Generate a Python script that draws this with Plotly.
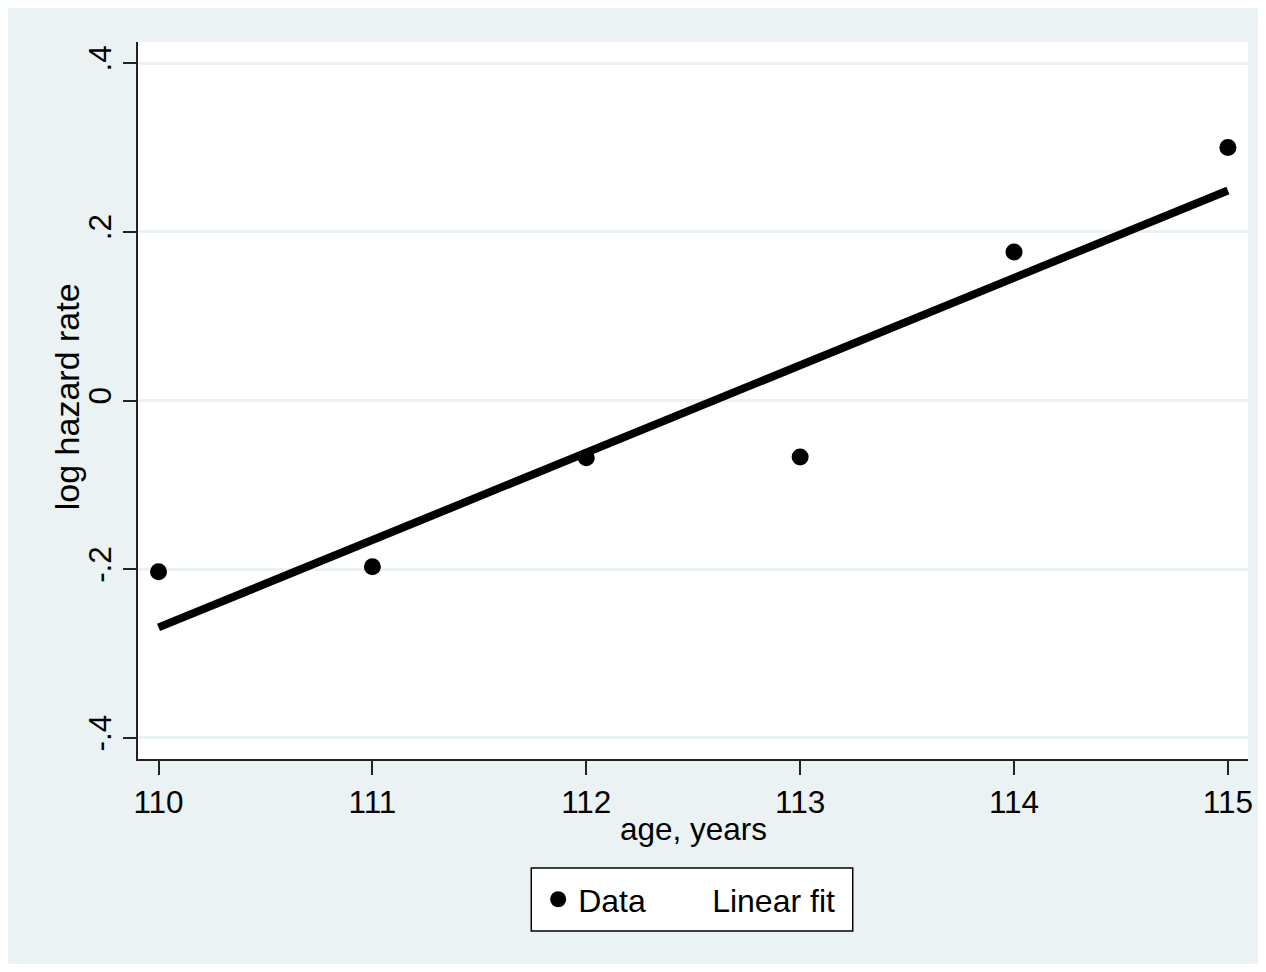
import plotly.graph_objects as go

ages = [110, 111, 112, 113, 114, 115]
log_hazard = [-0.203, -0.197, -0.068, -0.067, 0.176, 0.300]
fit_x = [110, 115]
fit_y = [-0.269, 0.249]
y_ticks = [-0.4, -0.2, 0, 0.2, 0.4]
y_tick_labels = ["-.4", "-.2", "0", ".2", ".4"]
x_ticks = [110, 111, 112, 113, 114, 115]

BG = "#EAF2F3"
FONT = "Liberation Sans, Arial, sans-serif"

fig = go.Figure()
fig.add_trace(go.Scatter(x=fit_x, y=fit_y, mode="lines", name="Linear fit",
                         line=dict(color="black", width=8), showlegend=False))
fig.add_trace(go.Scatter(x=ages, y=log_hazard, mode="markers", name="Data",
                         marker=dict(color="black", size=17), legendwidth=89))
fig.add_trace(go.Scatter(x=[None], y=[None], mode="lines", name="Linear fit",
                         line=dict(color="rgba(0,0,0,0)", width=0)))

# legend frame
fig.add_shape(type="rect", xref="paper", yref="paper",
              x0=0.3543, x1=0.6439, y0=-0.2399, y1=-0.152,
              line=dict(color="black", width=1.5), fillcolor="white", layer="below")

# axis titles
fig.add_annotation(text="age, years", xref="paper", yref="paper", x=0.5, y=-0.0976,
                   xanchor="center", yanchor="middle", showarrow=False,
                   font=dict(size=31.5))
fig.add_annotation(text="log hazard rate", xref="paper", yref="paper", x=-0.0637, y=0.505,
                   xanchor="center", yanchor="middle", textangle=-90, showarrow=False,
                   font=dict(size=34))

fig.update_layout(
    width=1250, height=956,
    paper_bgcolor=BG, plot_bgcolor="white",
    margin=dict(l=130, r=5, t=34, b=205),
    font=dict(family=FONT, size=31.5, color="black"),
    showlegend=True,
    legend=dict(orientation="h", x=0.3605, xanchor="left", y=-0.1959, yanchor="middle",
                bgcolor="rgba(0,0,0,0)", borderwidth=0,
                font=dict(size=32), itemsizing="trace"),
    xaxis=dict(range=[109.904, 115.094], tickvals=x_ticks, showgrid=False,
               zeroline=False, showline=True, linecolor="#222222", linewidth=1.5,
               ticks="outside", ticklen=14, tickcolor="#222222", tickwidth=1.5),
    yaxis=dict(range=[-0.425, 0.425], tickvals=y_ticks, ticktext=y_tick_labels,
               tickangle=-90, showgrid=True, gridcolor=BG, gridwidth=2.5,
               zeroline=False, showline=True, linecolor="#222222", linewidth=1.5,
               ticks="outside", ticklen=13, tickcolor="#222222", tickwidth=1.5),
)

fig.write_html("out.html")
